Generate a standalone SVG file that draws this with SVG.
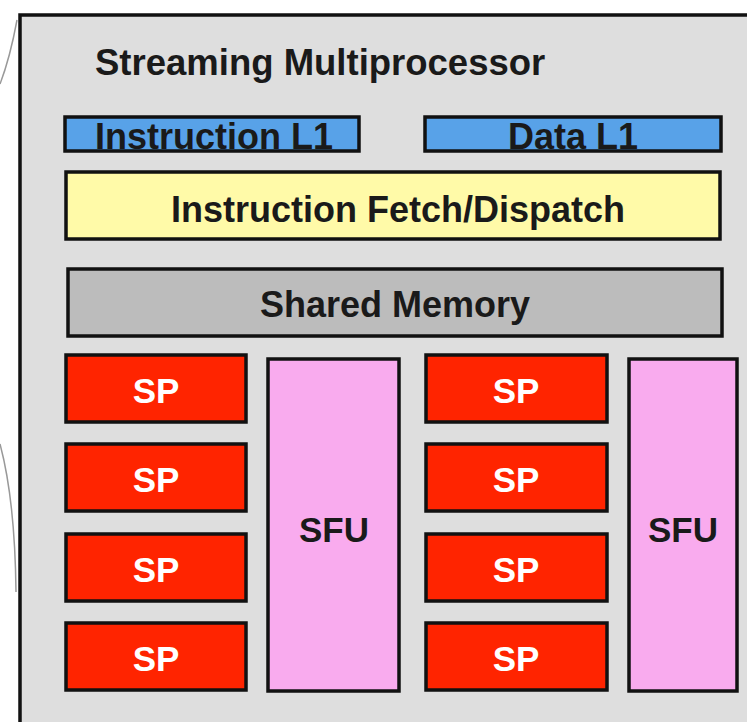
<svg xmlns="http://www.w3.org/2000/svg" width="747" height="722" viewBox="0 0 747 722">
<style>
.box{stroke:#111;stroke-width:3.5}
.t{font-family:"Liberation Sans",Arial,sans-serif;font-weight:bold;text-anchor:middle;fill:#1a1a1a}
.big{font-size:36px}
.sp{fill:#ff2400}
.spt{font-size:35px;fill:#fff}
.sfu{fill:#f9abee}
.dark{fill:#1a1a1a}
.conn{fill:none;stroke:#999;stroke-width:1.5}
</style>
<rect width="747" height="722" fill="#fff"/>
<g id="connectors">
<path class="conn" d="M0,84 Q10,58 17,20"/>
<path class="conn" d="M0,444 Q15,500 16,592"/>
</g>
<g id="sm">
<rect x="20" y="15" width="800" height="800" fill="#dedede" stroke="#111" stroke-width="3.5"/>
<text class="t" x="95" y="75" font-size="36.5" style="text-anchor:start">Streaming Multiprocessor</text>
</g>
<g id="instr-l1">
<rect x="65" y="117" width="294" height="34" fill="#58a2e8"/>
<text class="t big" x="214" y="149">Instruction L1</text>
<rect class="box" x="65" y="117" width="294" height="34" fill="none"/>
</g>
<g id="data-l1">
<rect x="425" y="117" width="296" height="34" fill="#58a2e8"/>
<text class="t big" x="573" y="149">Data L1</text>
<rect class="box" x="425" y="117" width="296" height="34" fill="none"/>
</g>
<g id="fetch">
<rect class="box" x="66" y="172" width="654" height="67" fill="#fffaa8"/>
<text class="t big" x="398" y="222">Instruction Fetch/Dispatch</text>
</g>
<g id="shared">
<rect class="box" x="68" y="269" width="654" height="67" fill="#bcbcbc"/>
<text class="t big" x="395" y="317">Shared Memory</text>
</g>
<g id="sp1"><rect class="box sp" x="66" y="355" width="180" height="67"/><text class="t spt" x="156" y="403">SP</text></g>
<g id="sp2"><rect class="box sp" x="66" y="444" width="180" height="67"/><text class="t spt" x="156" y="492">SP</text></g>
<g id="sp3"><rect class="box sp" x="66" y="534" width="180" height="67"/><text class="t spt" x="156" y="582">SP</text></g>
<g id="sp4"><rect class="box sp" x="66" y="623" width="180" height="67"/><text class="t spt" x="156" y="671">SP</text></g>
<g id="sfu1"><rect class="box sfu" x="268" y="359" width="131" height="332"/><text class="t spt dark" x="334" y="542" style="fill:#1a1a1a">SFU</text></g>
<g id="sp5"><rect class="box sp" x="426" y="355" width="181" height="67"/><text class="t spt" x="516" y="403">SP</text></g>
<g id="sp6"><rect class="box sp" x="426" y="444" width="181" height="67"/><text class="t spt" x="516" y="492">SP</text></g>
<g id="sp7"><rect class="box sp" x="426" y="534" width="181" height="67"/><text class="t spt" x="516" y="582">SP</text></g>
<g id="sp8"><rect class="box sp" x="426" y="623" width="181" height="67"/><text class="t spt" x="516" y="671">SP</text></g>
<g id="sfu2"><rect class="box sfu" x="629" y="359" width="108" height="332"/><text class="t spt dark" x="683" y="542" style="fill:#1a1a1a">SFU</text></g>
</svg>
